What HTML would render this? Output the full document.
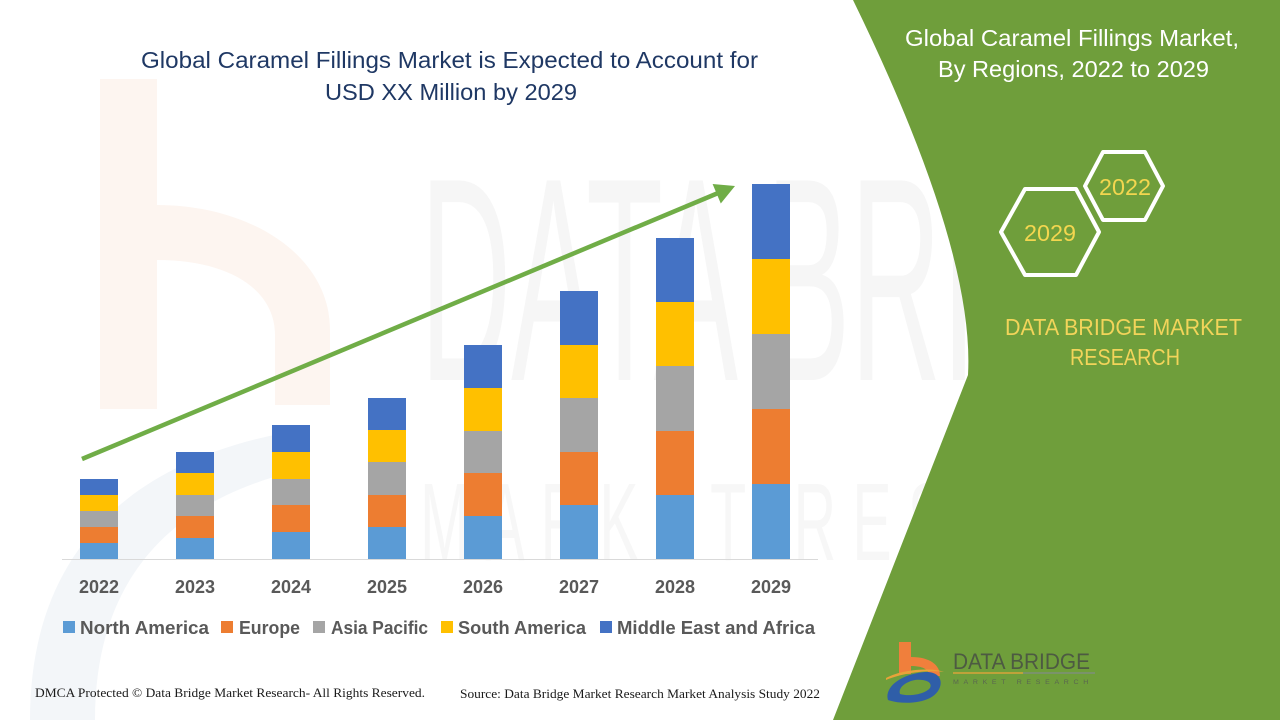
<!DOCTYPE html>
<html>
<head>
<meta charset="utf-8">
<style>
  html,body{margin:0;padding:0;background:#fff;}
  body{width:1280px;height:720px;overflow:hidden;}
  svg{display:block;}
  text{font-family:"Liberation Sans", sans-serif;}
</style>
</head>
<body>
<svg width="1280" height="720" viewBox="0 0 1280 720" xmlns="http://www.w3.org/2000/svg">
  <rect x="0" y="0" width="1280" height="720" fill="#ffffff"/>

  <!-- faint watermark -->
  <g>
    <rect x="100" y="79" width="57" height="330" fill="#fdf5f0"/>
    <path d="M157,205 C250,205 330,255 330,330 L330,405 L275,405 L275,335 C275,290 230,260 157,260 Z" fill="#fdf5f0"/>
    <path d="M30,720 C30,560 120,460 300,430 L300,470 C170,500 95,580 95,720 Z" fill="#f3f6f9"/>
    <text x="420" y="380" font-size="290" fill="#f6f6f6" textLength="830" lengthAdjust="spacingAndGlyphs">DATA BRIDGE</text>
    <text x="420" y="560" font-size="110" fill="#f7f7f7" textLength="830" lengthAdjust="spacingAndGlyphs" letter-spacing="30">MARKET RESEARCH</text>
  </g>

  <!-- green panel -->
  <path d="M853,0 Q975,250 968,375 L833,720 L1280,720 L1280,0 Z" fill="#6f9e3b"/>

  <!-- main title -->
  <text x="449.5" y="68" font-size="23" fill="#1f3864" text-anchor="middle" textLength="617" lengthAdjust="spacingAndGlyphs">Global Caramel Fillings Market is Expected to Account for</text>
  <text x="451" y="100" font-size="23" fill="#1f3864" text-anchor="middle" textLength="252" lengthAdjust="spacingAndGlyphs">USD XX Million by 2029</text>

  <!-- axis line -->
  <line x1="62" y1="559.5" x2="818" y2="559.5" stroke="#d9d9d9" stroke-width="1"/>

  <!-- bars -->
  <g>
    <rect x="80" y="543" width="38" height="16" fill="#5b9bd5"/>
    <rect x="80" y="527" width="38" height="16" fill="#ed7d31"/>
    <rect x="80" y="511" width="38" height="16" fill="#a5a5a5"/>
    <rect x="80" y="495" width="38" height="16" fill="#ffc000"/>
    <rect x="80" y="479" width="38" height="16" fill="#4472c4"/>

    <rect x="176" y="538" width="38" height="21" fill="#5b9bd5"/>
    <rect x="176" y="516" width="38" height="22" fill="#ed7d31"/>
    <rect x="176" y="495" width="38" height="21" fill="#a5a5a5"/>
    <rect x="176" y="473" width="38" height="22" fill="#ffc000"/>
    <rect x="176" y="452" width="38" height="21" fill="#4472c4"/>

    <rect x="272" y="532" width="38" height="27" fill="#5b9bd5"/>
    <rect x="272" y="505" width="38" height="27" fill="#ed7d31"/>
    <rect x="272" y="479" width="38" height="26" fill="#a5a5a5"/>
    <rect x="272" y="452" width="38" height="27" fill="#ffc000"/>
    <rect x="272" y="425" width="38" height="27" fill="#4472c4"/>

    <rect x="368" y="527" width="38" height="32" fill="#5b9bd5"/>
    <rect x="368" y="495" width="38" height="32" fill="#ed7d31"/>
    <rect x="368" y="462" width="38" height="33" fill="#a5a5a5"/>
    <rect x="368" y="430" width="38" height="32" fill="#ffc000"/>
    <rect x="368" y="398" width="38" height="32" fill="#4472c4"/>

    <rect x="464" y="516" width="38" height="43" fill="#5b9bd5"/>
    <rect x="464" y="473" width="38" height="43" fill="#ed7d31"/>
    <rect x="464" y="431" width="38" height="42" fill="#a5a5a5"/>
    <rect x="464" y="388" width="38" height="43" fill="#ffc000"/>
    <rect x="464" y="345" width="38" height="43" fill="#4472c4"/>

    <rect x="560" y="505" width="38" height="54" fill="#5b9bd5"/>
    <rect x="560" y="452" width="38" height="53" fill="#ed7d31"/>
    <rect x="560" y="398" width="38" height="54" fill="#a5a5a5"/>
    <rect x="560" y="345" width="38" height="53" fill="#ffc000"/>
    <rect x="560" y="291" width="38" height="54" fill="#4472c4"/>

    <rect x="656" y="495" width="38" height="64" fill="#5b9bd5"/>
    <rect x="656" y="431" width="38" height="64" fill="#ed7d31"/>
    <rect x="656" y="366" width="38" height="65" fill="#a5a5a5"/>
    <rect x="656" y="302" width="38" height="64" fill="#ffc000"/>
    <rect x="656" y="238" width="38" height="64" fill="#4472c4"/>

    <rect x="752" y="484" width="38" height="75" fill="#5b9bd5"/>
    <rect x="752" y="409" width="38" height="75" fill="#ed7d31"/>
    <rect x="752" y="334" width="38" height="75" fill="#a5a5a5"/>
    <rect x="752" y="259" width="38" height="75" fill="#ffc000"/>
    <rect x="752" y="184" width="38" height="75" fill="#4472c4"/>
  </g>

  <!-- arrow -->
  <line x1="82" y1="459" x2="717" y2="193.5" stroke="#70ad47" stroke-width="4.5"/>
  <polygon points="735,186 712.6,184 720.8,203.5" fill="#70ad47"/>

  <!-- x labels -->
  <g font-size="18" font-weight="bold" fill="#595959" text-anchor="middle">
    <text x="99" y="593">2022</text>
    <text x="195" y="593">2023</text>
    <text x="291" y="593">2024</text>
    <text x="387" y="593">2025</text>
    <text x="483" y="593">2026</text>
    <text x="579" y="593">2027</text>
    <text x="675" y="593">2028</text>
    <text x="771" y="593">2029</text>
  </g>

  <!-- legend -->
  <g font-size="18" font-weight="bold" fill="#595959">
    <rect x="63" y="621" width="12" height="12" fill="#5b9bd5"/>
    <text x="80" y="634" textLength="129" lengthAdjust="spacingAndGlyphs">North America</text>
    <rect x="221" y="621" width="12" height="12" fill="#ed7d31"/>
    <text x="239" y="634" textLength="61" lengthAdjust="spacingAndGlyphs">Europe</text>
    <rect x="313" y="621" width="12" height="12" fill="#a5a5a5"/>
    <text x="331" y="634" textLength="97" lengthAdjust="spacingAndGlyphs">Asia Pacific</text>
    <rect x="441" y="621" width="12" height="12" fill="#ffc000"/>
    <text x="458" y="634" textLength="128" lengthAdjust="spacingAndGlyphs">South America</text>
    <rect x="600" y="621" width="12" height="12" fill="#4472c4"/>
    <text x="617" y="634" textLength="198" lengthAdjust="spacingAndGlyphs">Middle East and Africa</text>
  </g>

  <!-- footer -->
  <text x="35" y="697" font-size="12.5" fill="#1a1a1a" style="font-family:'Liberation Serif',serif" textLength="390" lengthAdjust="spacingAndGlyphs">DMCA Protected © Data Bridge Market Research- All Rights Reserved.</text>
  <text x="460" y="698" font-size="12.5" fill="#1a1a1a" style="font-family:'Liberation Serif',serif" textLength="360" lengthAdjust="spacingAndGlyphs">Source: Data Bridge Market Research Market Analysis Study 2022</text>

  <!-- right panel title -->
  <text x="1072" y="46" font-size="23" fill="#ffffff" text-anchor="middle" textLength="334" lengthAdjust="spacingAndGlyphs">Global Caramel Fillings Market,</text>
  <text x="1073.5" y="77" font-size="23" fill="#ffffff" text-anchor="middle" textLength="271" lengthAdjust="spacingAndGlyphs">By Regions, 2022 to 2029</text>

  <!-- hexagons -->
  <polygon points="1085,186 1103,152 1145,152 1163,186 1145,220 1103,220" fill="none" stroke="#ffffff" stroke-width="4" stroke-linejoin="round"/>
  <polygon points="1001,232 1025,189 1076,189 1099,232 1076,275 1025,275" fill="none" stroke="#ffffff" stroke-width="4" stroke-linejoin="round"/>
  <text x="1125" y="195" font-size="23" fill="#f3d64f" text-anchor="middle" textLength="52" lengthAdjust="spacingAndGlyphs">2022</text>
  <text x="1050" y="241" font-size="23" fill="#f3d64f" text-anchor="middle" textLength="52" lengthAdjust="spacingAndGlyphs">2029</text>

  <!-- DBMR text -->
  <text x="1123.5" y="335" font-size="23" fill="#f2d45a" text-anchor="middle" textLength="237" lengthAdjust="spacingAndGlyphs">DATA BRIDGE MARKET</text>
  <text x="1125" y="365" font-size="23" fill="#f2d45a" text-anchor="middle" textLength="110" lengthAdjust="spacingAndGlyphs">RESEARCH</text>

  <!-- logo -->
  <g>
    <rect x="899" y="642" width="12" height="32" fill="#f07f3c"/>
    <path d="M911,657 C930,657 940,665 940,676 L929,676 C929,669 922,666 911,666 Z" fill="#f07f3c"/>
    <path d="M886,678 C905,668 935,668 944,672 C930,670 905,672 886,680 Z" fill="#e8a33a"/>
    <path d="M888,700 C884,688 900,674 925,672 C945,671 945,690 930,698 C918,704 900,704 888,700 Z M900,694 C910,697 925,694 930,688 C933,682 925,679 915,680 C905,682 898,688 900,694 Z" fill="#2f5ea8" fill-rule="evenodd"/>
    <text x="953" y="669" font-size="22" fill="#4d5a42" textLength="137" lengthAdjust="spacingAndGlyphs">DATA BRIDGE</text>
    <line x1="953" y1="673" x2="1023" y2="673" stroke="#d9a43a" stroke-width="1.5"/>
    <line x1="1023" y1="673" x2="1095" y2="673" stroke="#7f8f7a" stroke-width="1.5"/>
    <text x="953" y="684" font-size="6" fill="#5a6650" textLength="140" lengthAdjust="spacingAndGlyphs" letter-spacing="4">MARKET RESEARCH</text>
  </g>
</svg>
</body>
</html>
